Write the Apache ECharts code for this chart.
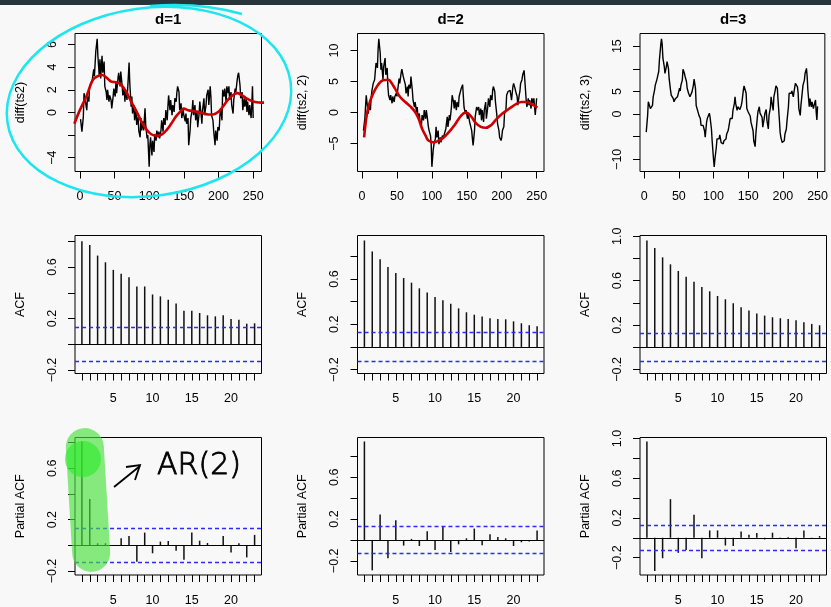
<!DOCTYPE html>
<html><head><meta charset="utf-8">
<script src="https://cdn.jsdelivr.net/npm/echarts@6/dist/echarts.min.js"></script>
<style>html,body{margin:0;padding:0;background:#f8f8f8;}#c{width:831px;height:607px;}</style>
</head><body><div id="c"></div>
<script>
// ---------- data ----------
const lags = [1,2,3,4,5,6,7,8,9,10,11,12,13,14,15,16,17,18,19,20,21,22,23];
const lagLabels = [5,10,15,20];
const timeTicks = [0,50,100,150,200,250];

const diff1 = [[1,-0.6],[3,-1.7],[5,-0.4],[6,1.7],[8,0.95],[10,0.2],[11,1.4],[13,0.95],[14,2.3],[16,2.6],
[18,2.9],[20,3.8],[21,3.2],[23,5.4],[25,6.5],[26,5.0],[27,4.1],[28,3.2],[29,4.7],[30,3.0],
[32,5.0],[33,3.5],[35,4.5],[36,2.3],[38,1.8],[39,1.1],[40,2.0],[42,0.95],[43,1.5],[45,1.1],
[46,0.36],[48,1.4],[49,2.1],[51,1.4],[52,2.6],[53,1.7],[55,3.0],[56,3.5],[58,2.3],[59,3.6],
[61,2.4],[62,1.5],[64,2.1],[65,0.95],[66,2.0],[68,1.1],[69,2.1],[71,4.4],[72,2.6],[74,0.5],
[75,1.4],[76,-0.1],[78,0.65],[79,-0.7],[81,0.2],[82,-1.1],[84,-0.4],[85,-1.6],[87,-2.2],[88,-0.5],
[89,-1.6],[91,-0.8],[92,-1.6],[94,0.36],[95,-1.1],[97,-2.3],[98,-2.0],[100,-4.8],[101,-2.9],[102,-2.2],
[104,-3.8],[105,-2.5],[107,-3.5],[108,-1.9],[110,-2.5],[111,-1.6],[113,-2.2],[114,-1.7],[115,-2.3],[117,-1.6],
[118,-0.7],[120,-1.7],[121,-0.5],[123,-1.1],[124,0.2],[126,-0.7],[127,0.5],[128,1.5],[130,0.2],[131,1.1],
[133,-0.25],[134,0.65],[136,0.05],[137,1.25],[139,0.95],[140,1.8],[141,2.3],[143,1.8],[144,0.2],[146,0.8],
[147,-0.5],[149,0.2],[150,-0.25],[152,-0.8],[153,-0.1],[154,-1.0],[156,-0.5],[157,-2.9],[159,-1.6],[160,-0.5],
[162,0.2],[163,1.1],[164,-0.25],[166,0.65],[167,-0.7],[169,0.05],[170,-1.3],[172,-0.1],[173,0.95],[175,-0.25],
[176,-1.0],[177,0.2],[179,1.25],[180,-0.25],[182,0.65],[183,1.5],[185,2.0],[186,0.65],[188,2.3],[189,1.4],
[190,-0.25],[192,-0.7],[193,-1.6],[195,-2.9],[196,-1.6],[198,-2.5],[199,-1.3],[201,-1.6],[202,-0.25],[203,0.36],
[205,-0.7],[206,2.0],[208,1.4],[209,2.1],[211,0.95],[212,2.3],[214,1.7],[215,2.3],[216,1.1],[218,1.8],
[219,0.65],[221,-0.1],[222,1.1],[224,2.1],[225,1.8],[227,2.9],[228,3.3],[229,3.5],[231,2.4],[232,1.25],
[234,1.8],[235,0.2],[237,1.25],[238,0.5],[240,1.25],[241,0.05],[242,0.95],[244,-0.25],[245,0.65],[247,-0.5],
[248,0.65],[249,2.3],[250,-0.5]];
const smooth1 = [[-8,-1.0],[0,0.2],[10,1.5],[19,2.9],[26,3.2],[32,3.3],[38,3.1],[46,2.7],[53,2.67],[60,2.4],
[67,1.8],[74,0.95],[82,0.06],[89,-0.83],[96,-1.5],[103,-1.93],[111,-2.05],[118,-1.96],[125,-1.57],[132,-0.98],
[139,-0.33],[147,0.2],[150,0.33],[156,0.2],[166,0.09],[175,-0.03],[185,-0.18],[192,-0.18],[200,0.06],[207,0.56],
[214,1.16],[221,1.54],[227,1.7],[233,1.54],[240,1.25],[248,1.0],[255,0.89],[262,0.86],[270,0.86],[279,0.93]];

const diff2 = [[2,-2.9],[4,-1.0],[6,2.8],[7,1.7],[9,-0.16],[10,1.2],[12,0.4],[13,2.3],[14,3.4],[16,4.7],
[18,5.3],[20,8.0],[22,7.2],[23,10.2],[24,11.9],[26,9.6],[27,6.9],[28,8.0],[30,5.3],[31,7.4],
[33,8.8],[34,6.1],[36,7.2],[37,4.2],[38,2.8],[40,2.0],[41,2.8],[43,1.5],[44,2.6],[46,1.7],
[47,2.6],[49,3.1],[50,2.6],[52,4.5],[53,5.5],[54,4.7],[56,6.4],[57,7.0],[59,5.8],[60,6.1],
[62,4.5],[63,3.1],[65,4.2],[66,2.6],[67,4.5],[69,3.9],[70,5.8],[72,3.6],[73,2.0],[75,0.9],
[76,1.7],[78,0.1],[79,0.9],[80,-0.7],[82,-0.16],[83,-1.5],[85,-2.1],[86,-0.4],[88,-1.25],[89,0.4],
[91,-1.0],[92,0.4],[93,-0.4],[95,-2.3],[96,-2.9],[98,-3.7],[99,-5.1],[100,-8.75],[102,-5.9],[103,-5.1],
[105,-4.2],[106,-2.3],[107,-4.0],[109,-2.9],[110,-5.1],[112,-4.0],[113,-4.8],[115,-3.7],[116,-4.2],[118,-3.4],
[119,-3.7],[120,-2.6],[122,-0.7],[123,-2.3],[125,-0.4],[126,-1.25],[128,0.9],[129,2.8],[131,1.7],[132,0.65],
[133,2.0],[135,0.4],[136,1.7],[138,0.9],[139,2.6],[141,2.8],[142,3.9],[144,4.5],[145,4.2],[146,0.9],
[148,-0.16],[149,0.4],[151,-1.0],[152,-0.16],[154,-1.5],[155,-1.25],[157,-2.9],[158,-4.2],[159,-5.3],[161,-2.9],
[162,-0.7],[164,0.9],[165,0.4],[167,0.9],[168,-0.4],[170,0.65],[171,-1.25],[172,0.4],[174,-1.5],[175,0.4],
[177,1.7],[178,-1.0],[180,0.9],[181,2.3],[183,0.9],[184,2.8],[186,2.0],[187,3.6],[188,4.2],[190,3.4],
[191,1.7],[193,-0.4],[194,-1.8],[196,-2.9],[197,-4.0],[199,-4.5],[200,-4.0],[201,-2.9],[203,-2.3],[204,-0.16],
[206,0.4],[207,2.8],[209,3.4],[210,3.1],[212,3.6],[213,3.4],[214,2.0],[216,4.2],[217,4.7],[219,3.9],
[220,3.4],[222,2.6],[223,1.2],[225,2.8],[226,3.4],[227,4.7],[229,5.3],[230,6.1],[232,6.8],[233,5.3],
[235,2.0],[236,0.9],[238,2.3],[239,1.2],[240,2.0],[242,0.65],[243,2.3],[245,1.5],[246,2.3],[248,-0.4],
[249,-0.16],[250,2.3]];
const smooth2 = [[3,-4.0],[5,-1.8],[9,0.9],[16,3.1],[23,4.5],[30,5.2],[38,5.3],[42,4.8],[47,3.9],[54,2.6],
[62,1.7],[69,1.0],[76,0.1],[81,-1.0],[86,-2.6],[91,-3.7],[95,-4.5],[103,-4.8],[110,-4.5],[117,-4.0],
[124,-3.2],[132,-2.1],[139,-0.9],[145,-0.16],[149,0],[156,-0.6],[163,-1.7],[170,-2.3],[177,-2.45],[185,-2.0],
[192,-1.1],[201,-0.16],[211,0.65],[221,1.4],[228,1.7],[235,1.7],[242,1.4],[251,0.8]];

const diff3 = [[3,-4.0],[5,-0.3],[6,2.7],[8,2.9],[9,1.2],[11,0.8],[12,1.9],[13,3.8],[15,5.3],[16,6.4],
[18,7.4],[19,7.7],[21,9.4],[22,12.0],[24,15.4],[25,16.6],[26,15.4],[27,12.4],[29,10.5],[30,9.0],
[32,10.5],[33,11.6],[35,10.1],[36,7.9],[38,5.3],[39,4.2],[40,4.0],[42,3.4],[43,2.7],[45,3.4],
[46,3.1],[48,3.8],[49,4.2],[51,5.7],[52,5.1],[53,6.4],[55,7.5],[56,9.9],[58,9.0],[59,8.3],
[61,7.2],[62,5.7],[64,4.6],[65,4.9],[66,3.8],[68,3.4],[69,4.9],[71,6.4],[72,7.7],[74,5.7],
[75,1.9],[77,0.8],[78,0.45],[79,-0.3],[81,-1.0],[82,-2.5],[84,-2.9],[85,-2.5],[87,-3.7],[88,-5.1],
[90,-1.8],[91,-1.0],[92,-0.8],[94,0.2],[95,-0.7],[97,-3.3],[98,-5.9],[100,-10.0],[101,-11.7],[102,-10.0],
[104,-7.4],[105,-5.5],[106,-5.9],[108,-5.5],[109,-4.6],[111,-6.3],[112,-5.9],[114,-6.6],[115,-5.9],[117,-6.3],
[118,-5.5],[119,-4.4],[121,-3.7],[122,-2.9],[124,-1.0],[125,-0.7],[127,-1.0],[128,0.8],[130,2.3],[131,3.8],
[132,2.3],[134,0.8],[135,1.6],[137,1.9],[138,1.0],[140,1.9],[141,2.7],[143,5.3],[144,6.2],[145,6.4],
[147,4.6],[148,1.2],[150,0.45],[151,0.8],[153,-0.5],[154,-1.8],[156,-2.2],[157,-3.7],[158,-5.9],[160,-7.2],
[161,-4.4],[163,-1.0],[164,0.45],[166,1.6],[167,0.2],[169,0.45],[170,-0.7],[171,-2.9],[173,-1.0],[174,0.1],
[176,1.0],[177,-1.4],[179,-3.3],[180,-0.3],[182,1.4],[183,3.8],[184,2.7],[186,0.8],[187,3.8],[189,5.3],
[190,6.2],[192,5.7],[193,3.1],[195,-1.4],[196,-4.0],[197,-5.1],[199,-6.3],[200,-6.6],[202,-5.9],[203,-4.4],
[205,-3.3],[206,-1.4],[208,1.6],[209,4.6],[210,4.9],[212,4.6],[213,5.1],[215,3.8],[216,4.9],[218,6.8],
[219,7.2],[221,6.0],[222,4.6],[223,1.2],[225,-0.3],[226,1.9],[228,4.9],[229,6.4],[231,7.5],[232,9.0],
[234,10.1],[235,8.3],[236,5.3],[238,1.6],[239,3.4],[241,1.6],[242,2.7],[244,1.2],[245,1.9],[247,3.1],
[248,0.45],[249,-1.3],[250,1.7]];

const acf1 = [0.800,0.772,0.689,0.637,0.578,0.547,0.521,0.449,0.449,0.387,0.372,0.346,0.317,0.261,0.261,0.243,0.225,0.217,0.225,0.196,0.191,0.160,0.163];
const acf2 = [0.941,0.844,0.774,0.706,0.653,0.609,0.568,0.518,0.482,0.441,0.412,0.382,0.341,0.306,0.285,0.268,0.253,0.247,0.244,0.226,0.209,0.191,0.182];
const acf3 = [0.963,0.894,0.810,0.747,0.687,0.636,0.591,0.543,0.504,0.462,0.432,0.396,0.360,0.330,0.303,0.285,0.270,0.261,0.255,0.243,0.225,0.210,0.198];
const pacf1 = [0.808,0.361,0.016,0.016,-0.005,0.055,0.073,-0.127,0.099,-0.062,0.029,0.034,-0.042,-0.112,0.099,0.036,0.018,-0.005,0.073,-0.055,0.016,-0.094,0.081];
const pacf2 = [0.944,-0.291,0.243,-0.176,0.189,-0.054,0.010,-0.058,0.083,-0.096,0.131,-0.115,-0.042,0.016,0.109,-0.051,0.054,0.029,0.016,-0.058,-0.022,-0.016,0.090];
const pacf3 = [0.970,-0.334,-0.206,0.389,-0.152,-0.122,0.233,-0.206,0.074,0.074,-0.078,-0.084,0.064,0.030,0.047,-0.017,0.051,0.003,0.007,-0.105,0.074,-0.010,0.017];
const ciBound = 0.125;

const titles = ['d=1','d=2','d=3'];
const tsNames = ['diff(ts2)','diff(ts2, 2)','diff(ts2, 3)'];
const tsTicks = [[-4,-2,0,2,4,6],[-5,0,5,10],[-10,-5,0,5,10,15]];
const tsLabels = [[-4,0,2,4,6],[-5,0,5,10],[-10,0,5,15]];
const cfTicksA = [-0.2,0,0.2,0.4,0.6,0.8];
const cfTicksB = [-0.2,0,0.2,0.4,0.6,0.8,1.0];
const cfLabelsA = [-0.2,0.2,0.6];
const cfLabelsB = [-0.2,0.2,0.6,1.0];

// ---------- layout ----------
const FONT = '"Liberation Sans", Arial, Helvetica, sans-serif';
const FS = 12.5;
const colLeft = [75, 357.5, 640], colW = 186.5;
const rowTop = [33.5, 235.5, 437.5], rowH = 138;

function fmt(v, dec){ const s = Math.abs(v).toFixed(dec); return (v < -1e-9 ? '\u2212' : '') + s; }

const panels = [
 {r:0,c:0,kind:'ts',data:diff1,sm:smooth1,xr:[-7,262],yr:[-5.22,6.97]},
 {r:0,c:1,kind:'ts',data:diff2,sm:smooth2,xr:[-6.5,260.5],yr:[-9.5,12.75]},
 {r:0,c:2,kind:'ts',data:diff3,sm:null,xr:[-6,260.5],yr:[-12.7,17.8]},
 {r:1,c:0,kind:'cf',vals:acf1,yr:[-0.227,0.845],tk:cfTicksA,lb:cfLabelsA,name:'ACF'},
 {r:1,c:1,kind:'cf',vals:acf2,yr:[-0.235,0.985],tk:cfTicksA,lb:cfLabelsA,name:'ACF'},
 {r:1,c:2,kind:'cf',vals:acf3,yr:[-0.237,1.007],tk:cfTicksB,lb:cfLabelsB,name:'ACF'},
 {r:2,c:0,kind:'cf',vals:pacf1,yr:[-0.231,0.839],tk:cfTicksA,lb:cfLabelsA,name:'Partial ACF'},
 {r:2,c:1,kind:'cf',vals:pacf2,yr:[-0.336,0.982],tk:cfTicksA,lb:cfLabelsA,name:'Partial ACF'},
 {r:2,c:2,kind:'cf',vals:pacf3,yr:[-0.375,1.01],tk:cfTicksB,lb:cfLabelsB,name:'Partial ACF'}
];

const grid=[], xAxis=[], yAxis=[], series=[];
const tickStyle = {color:'#000', width:1};
const labStyle = {fontFamily:FONT, fontSize:FS, color:'#000'};
panels.forEach((p,i)=>{
  grid.push({left:colLeft[p.c], top:rowTop[p.r], width:colW, height:rowH, show:true,
    borderColor:'#000', borderWidth:1, backgroundColor:'transparent'});
  const isTs = p.kind==='ts';
  xAxis.push({type:'value', gridIndex:i,
    min: isTs ? p.xr[0] : 0.12, max: isTs ? p.xr[1] : 23.88,
    axisLine:{show:false,onZero:false}, splitLine:{show:false},
    axisTick:{show:true,length:7,customValues: isTs ? timeTicks : lags, lineStyle:tickStyle},
    axisLabel:Object.assign({customValues: isTs ? timeTicks : lagLabels, margin:19,
      formatter:v=>fmt(v,0)}, labStyle)});
  yAxis.push({type:'value', gridIndex:i, min:p.yr[0], max:p.yr[1],
    axisLine:{show:false,onZero:false}, splitLine:{show:false},
    axisTick:{show:true,length:7,customValues: isTs ? tsTicks[p.c] : p.tk, lineStyle:tickStyle},
    axisLabel:Object.assign({customValues: isTs ? tsLabels[p.c] : p.lb, margin:16, rotate:90,
      formatter:v=>fmt(v, isTs?0:1)}, labStyle),
    name: isTs ? tsNames[p.c] : p.name, nameLocation:'middle', nameGap:48, nameRotate:90,
    nameTextStyle:{fontFamily:FONT, fontSize:FS, color:'#000'}});
  if (isTs){
    series.push({type:'line', xAxisIndex:i, yAxisIndex:i, data:p.data, symbol:'none', showSymbol:false,
      lineStyle:{color:'#000', width:1.4}, animation:false, silent:true, z:2});
    if (p.sm) series.push({type:'line', xAxisIndex:i, yAxisIndex:i, data:p.sm, symbol:'none', showSymbol:false,
      smooth:0.4, clip:false, lineStyle:{color:'#cc0000', width:2.6}, animation:false, silent:true, z:3});
  } else {
    series.push({type:'bar', xAxisIndex:i, yAxisIndex:i, barWidth:1.5,
      data: lags.map((l,k)=>[l, p.vals[k]]), itemStyle:{color:'#111'}, animation:false, silent:true,
      markLine:{silent:true, symbol:['none','none'], label:{show:false}, animation:false,
        data:[{yAxis:0, lineStyle:{color:'#000', type:'solid', width:1}},
              {yAxis:ciBound, lineStyle:{color:'#2b2bff', type:[4,3], width:1.3}},
              {yAxis:-ciBound, lineStyle:{color:'#2b2bff', type:[4,3], width:1.3}}]}});
  }
});

const graphic = [
  {type:'rect', shape:{x:0,y:0,width:831,height:5}, style:{fill:'#28363c'}, z:100}
];
titles.forEach((t,c)=>graphic.push({type:'text', x:colLeft[c]+colW/2, y:20,
  style:{text:t, fontFamily:FONT, fontSize:15, fontWeight:'bold', fill:'#000', align:'center', verticalAlign:'middle'}, z:100}));
// hand-drawn annotations
graphic.push({type:'ellipse', x:149, y:102, rotation:0.14, shape:{cx:0,cy:0,rx:143,ry:94},
  style:{fill:'none', stroke:'#1de6ee', lineWidth:2.5}, z:101});
graphic.push({type:'bezierCurve', shape:{x1:150,y1:6,x2:242,y2:14,cpx1:200,cpy1:2}, style:{fill:'none', stroke:'#1de6ee', lineWidth:2.5}, z:101});
graphic.push({type:'rect', x:88, y:500, rotation:0.06, shape:{x:-19,y:-72,width:38,height:144,r:19},
  style:{fill:'rgba(70,225,60,0.65)'}, z:102});
graphic.push({type:'circle', shape:{cx:83,cy:459,r:18}, style:{fill:'rgba(40,235,40,0.6)'}, z:103});
graphic.push({type:'line', shape:{x1:114,y1:487,x2:140,y2:466}, style:{stroke:'#000', lineWidth:1.8}, z:104});
graphic.push({type:'polyline', shape:{points:[[126,467],[140,465],[135,480]]}, style:{fill:'none', stroke:'#000', lineWidth:1.8}, z:104});
graphic.push({type:'text', x:199, y:466, style:{text:'AR(2)', fontFamily:'"DejaVu Sans"', fontSize:30, fontWeight:200,
  fill:'#000', stroke:'#000', lineWidth:0.9, align:'center', verticalAlign:'middle'}, z:104});

const chart = echarts.init(document.getElementById('c'), null, {renderer:'canvas'});
chart.setOption({backgroundColor:'#f8f8f8', animation:false, grid, xAxis, yAxis, series, graphic});
</script></body></html>
